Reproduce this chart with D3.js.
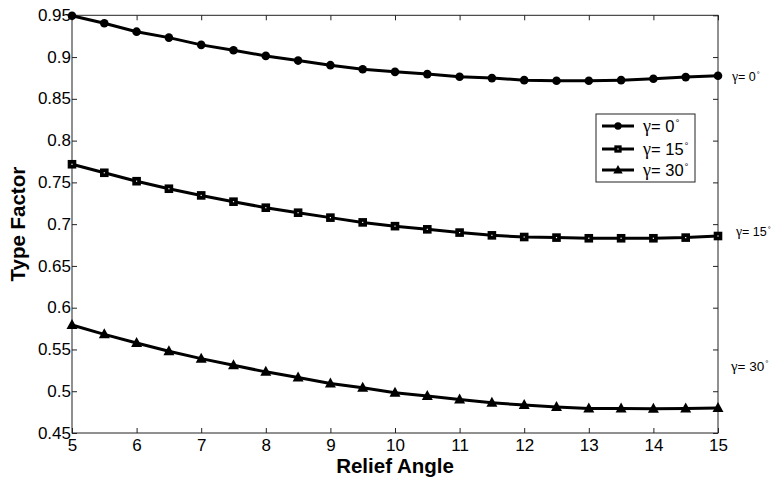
<!DOCTYPE html>
<html><head><meta charset="utf-8">
<script src="https://cdn.jsdelivr.net/npm/d3@7"></script>
<style>body{margin:0;background:#fff}svg{display:block;font-family:"Liberation Sans",Arial,sans-serif}</style>
</head><body><svg id="c" width="780" height="481"></svg>
<script>
const reliefAngles = [5,5.5,6,6.5,7,7.5,8,8.5,9,9.5,10,10.5,11,11.5,12,12.5,13,13.5,14,14.5,15];
const gamma0  = [0.9495,0.9405,0.9304,0.9233,0.9146,0.9082,0.9014,0.8958,0.8903,0.8855,0.8823,0.8796,0.8764,0.8748,0.8724,0.8716,0.8716,0.8724,0.8740,0.8760,0.8776];
const gamma15 = [0.7717,0.7615,0.7514,0.7424,0.7344,0.7269,0.7197,0.7137,0.7078,0.7021,0.6976,0.6938,0.6899,0.6866,0.6846,0.6839,0.6831,0.6831,0.6831,0.6839,0.6858];
const gamma30 = [0.5792,0.5681,0.5578,0.5479,0.5390,0.5311,0.5232,0.5164,0.5092,0.5041,0.4981,0.4942,0.4901,0.4862,0.4834,0.4810,0.4794,0.4794,0.4790,0.4794,0.4798];
const gammaValues = ["0","15","30"];
const markerTypes = ["circle","square","triangle"];
const xTicks = [5,6,7,8,9,10,11,12,13,14,15];
const yTicks = [0.45,0.5,0.55,0.6,0.65,0.7,0.75,0.8,0.85,0.9,0.95];
const xTitle = "Relief Angle", yTitle = "Type Factor";

const svg = d3.select("#c");
const L=72, R=718, T=15.3, B=433;
const x = d3.scaleLinear().domain([5,15]).range([L,R]);
const y = d3.scaleLinear().domain([0.45,0.95]).range([B,T]);
const axCol="#222";

svg.append("rect").attr("x",L).attr("y",T).attr("width",R-L).attr("height",B-T)
  .attr("fill","none").attr("stroke",axCol).attr("stroke-width",1);

const fmt = d => String(d);
const gx = svg.append("g").attr("transform",`translate(0,${B})`)
  .call(d3.axisBottom(x).tickValues(xTicks).tickSize(-5).tickPadding(7).tickFormat(fmt));
const gxt = svg.append("g").attr("transform",`translate(0,${T})`)
  .call(d3.axisTop(x).tickValues(xTicks).tickSize(-5).tickFormat(""));
const gy = svg.append("g").attr("transform",`translate(${L},0)`)
  .call(d3.axisLeft(y).tickValues(yTicks).tickSize(-5).tickPadding(1).tickFormat(fmt));
const gyr = svg.append("g").attr("transform",`translate(${R},0)`)
  .call(d3.axisRight(y).tickValues(yTicks).tickSize(-5).tickFormat(""));
[gx,gxt,gy,gyr].forEach(g=>{
  g.select(".domain").remove();
  g.selectAll(".tick line").attr("stroke",axCol);
  g.selectAll("text").attr("fill","#000").style("font-size","17px").style("font-family","'Liberation Sans',Arial,sans-serif");
});
gx.selectAll("text").attr("dy","0.62em");
gy.selectAll("text").attr("dy","0.3em");

svg.append("text").attr("x",(L+R)/2).attr("y",473).attr("text-anchor","middle")
  .style("font-weight","bold").style("font-size","20.5px").text(xTitle);
svg.append("text").attr("transform",`translate(25,${(T+B)/2}) rotate(-90)`).attr("text-anchor","middle")
  .style("font-weight","bold").style("font-size","20.5px").text(yTitle);

const series = [gamma0,gamma15,gamma30];
const line = d3.line().x((d,i)=>x(reliefAngles[i])).y(d=>y(d));

function drawMarker(g,type,cx,cy,s){
  if(type==="circle") g.append("circle").attr("cx",cx).attr("cy",cy).attr("r",4.3*s).attr("fill","#000");
  else if(type==="square"){
    g.append("rect").attr("x",cx-4.3*s).attr("y",cy-4.3*s).attr("width",8.6*s).attr("height",8.6*s).attr("fill","#000");
    g.append("rect").attr("x",cx-0.6).attr("y",cy-0.6).attr("width",1.2).attr("height",1.2).attr("fill","#fff");
  }
  else g.append("path").attr("d",`M${cx},${cy-6*s}L${cx+5.5*s},${cy+4*s}L${cx-5.5*s},${cy+4*s}Z`).attr("fill","#000");
}

series.forEach((vals,k)=>{
  svg.append("path").datum(vals).attr("d",line).attr("fill","none").attr("stroke","#000").attr("stroke-width",3);
  const g = svg.append("g");
  vals.forEach((v,i)=>drawMarker(g,markerTypes[k],x(reliefAngles[i]),y(v),1));
});

function gammaLabel(sel,val,fs){
  sel.append("tspan").style("font-family","'Liberation Serif','Times New Roman',serif").style("font-size",(fs*1.1)+"px").text("γ");
  sel.append("tspan").text("= "+val);
  sel.append("tspan").attr("dy",-fs*0.35).attr("dx",1).style("font-size",(fs*0.6)+"px").text("°");
}

const rightPos = [{x:732,y:81,fs:12.5},{x:736,y:236,fs:12.5},{x:731,y:371,fs:13.5}];
rightPos.forEach((r,k)=>{
  const t = svg.append("text").attr("x",r.x).attr("y",r.y).style("font-size",r.fs+"px");
  gammaLabel(t,gammaValues[k],r.fs);
});

const lg = svg.append("g");
lg.append("rect").attr("x",596).attr("y",114).attr("width",99).attr("height",68)
  .attr("fill","#fff").attr("stroke",axCol).attr("stroke-width",1);
const ly=[126,149,170];
gammaValues.forEach((n,k)=>{
  lg.append("line").attr("x1",602).attr("x2",634).attr("y1",ly[k]).attr("y2",ly[k]).attr("stroke","#000").attr("stroke-width",3);
  drawMarker(lg,markerTypes[k],618,ly[k],0.85);
  const t = lg.append("text").attr("x",643).attr("y",ly[k]+6).style("font-size","16.5px");
  gammaLabel(t,n,16.5);
});
</script></body></html>
